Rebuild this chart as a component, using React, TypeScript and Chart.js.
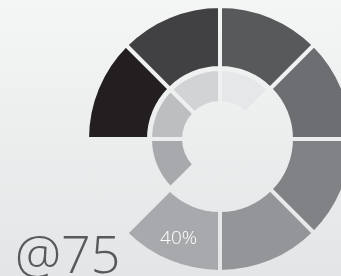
import React, { useEffect, useRef } from 'react';
import { Chart, registerables } from 'chart.js';

Chart.register(...registerables);

// Eight equal outer slots (clockwise from 12 o'clock), one left empty
const outerLabels = ['S1', 'S2', 'S3', 'S4', 'S5', 'S6', 'S7', 'S8'];
const outerValues = [12.5, 12.5, 12.5, 12.5, 12.5, 12.5, 12.5, 12.5];
const outerColors = ['#58595b', '#6d6e71', '#808285', '#939598', '#a7a9ac', 'rgba(0,0,0,0)', '#231f20', '#414042'];

// Inner ring: four 45° slots covering the left/top half, the rest empty
const innerValues = [12.5, 50, 12.5, 12.5, 12.5];
const innerColors = ['#e6e7e8', 'rgba(0,0,0,0)', '#a7a9ac', '#bcbec0', '#d1d3d4'];

const valueLabel = '40%';
const valueLabelIndex = 4;
const bigText = '@75';

const W = 341;
const H = 276;

export default function App() {
  const ref = useRef<HTMLCanvasElement | null>(null);

  useEffect(() => {
    const canvas = ref.current;
    if (!canvas) return;
    const ctx = canvas.getContext('2d');
    if (!ctx) return;
    const grad = ctx.createLinearGradient(0, 0, 0, H);
    grad.addColorStop(0, '#f4f5f5');
    grad.addColorStop(1, '#e4e5e6');

    const labelPlugin = {
      id: 'valueLabel',
      afterDatasetsDraw(chart: any) {
        const meta = chart.getDatasetMeta(0);
        const arc = meta.data[valueLabelIndex];
        if (!arc) return;
        const p = arc.getProps(['x', 'y', 'startAngle', 'endAngle', 'innerRadius', 'outerRadius'], true);
        const mid = (p.startAngle + p.endAngle) / 2;
        const r = p.innerRadius + (p.outerRadius - p.innerRadius) * 0.6;
        const c = chart.ctx;
        c.save();
        c.fillStyle = '#ffffff';
        c.font = '300 19px "Open Sans"';
        c.textAlign = 'center';
        c.textBaseline = 'middle';
        c.fillText(valueLabel, p.x + Math.cos(mid) * r, p.y + Math.sin(mid) * r);
        c.restore();
      },
    };

    const chart = new Chart(canvas, {
      type: 'doughnut',
      data: {
        labels: outerLabels,
        datasets: [
          {
            data: outerValues,
            backgroundColor: outerColors,
            borderColor: grad as any,
            borderWidth: 4,
            borderAlign: 'center',
            borderJoinStyle: 'miter',
            weight: 62,
          } as any,
          {
            data: [1],
            backgroundColor: 'rgba(0,0,0,0)',
            borderWidth: 0,
            weight: 1,
          } as any,
          {
            data: innerValues,
            backgroundColor: innerColors,
            borderColor: grad as any,
            borderWidth: 4,
            borderAlign: 'center',
            borderJoinStyle: 'miter',
            weight: 34,
          } as any,
        ],
      },
      options: {
        responsive: false,
        animation: false,
        devicePixelRatio: 1,
        radius: 133,
        cutout: (36 / 133) * 100 + '%',
        layout: { padding: { left: 99, top: 2, right: 0, bottom: 0 } },
        events: [],
        plugins: {
          legend: { display: false },
          tooltip: { enabled: false },
        },
      } as any,
      plugins: [labelPlugin],
    });
    return () => chart.destroy();
  }, []);

  return (
    <div
      style={{
        position: 'absolute',
        left: 0,
        top: 0,
        width: W,
        height: H,
        overflow: 'hidden',
        background: 'linear-gradient(#f4f5f5, #e4e5e6)',
      }}
    >
      <canvas ref={ref} width={W} height={H} style={{ position: 'absolute', left: 0, top: 0, width: W, height: H }} />
      <div
        style={{
          position: 'absolute',
          left: 15,
          top: 227,
          fontFamily: '"Open Sans", sans-serif',
          fontWeight: 300,
          fontSize: 52,
          lineHeight: '52px',
          color: '#58595b',
          whiteSpace: 'nowrap',
        }}
      >
        {bigText}
      </div>
    </div>
  );
}
